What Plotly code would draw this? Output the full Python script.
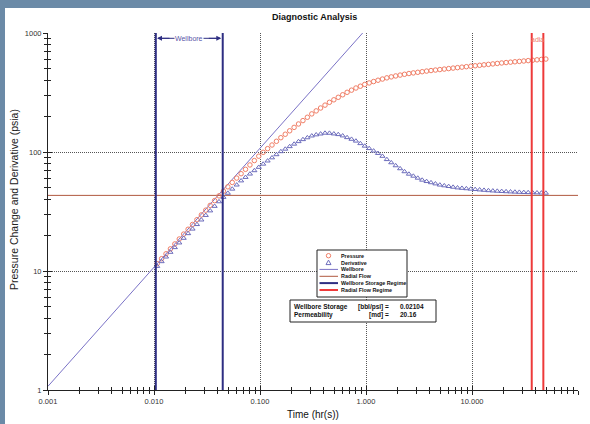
import plotly.graph_objects as go

# ---------------- data ----------------
time_hr = [
    0.010715, 0.011794, 0.012982, 0.014289, 0.015728, 0.017312, 0.019055, 0.020974,
    0.023086, 0.025410, 0.027970, 0.030786, 0.033884, 0.037297, 0.041052, 0.045186,
    0.049736, 0.054745, 0.060256, 0.066324, 0.073003, 0.080353, 0.088445, 0.097351,
    0.10715, 0.11794, 0.12982, 0.14289, 0.15728, 0.17312, 0.19055, 0.20974,
    0.23086, 0.25410, 0.27970, 0.30786, 0.33884, 0.37297, 0.41052, 0.45186,
    0.49736, 0.54745, 0.60256, 0.66324, 0.73003, 0.80353, 0.88445, 0.97351,
    1.0715, 1.1794, 1.2982, 1.4289, 1.5728, 1.7312, 1.9055, 2.0974,
    2.3086, 2.5410, 2.7970, 3.0786, 3.3884, 3.7297, 4.1052, 4.5186,
    4.9736, 5.4745, 6.0256, 6.6324, 7.3003, 8.0353, 8.8445, 9.7351,
    10.715, 11.794, 12.982, 14.289, 15.728, 17.312, 19.055, 20.974,
    23.086, 25.410, 27.970, 30.786, 33.884, 37.297, 41.052, 45.186,
    49.736,
]

pressure_psia = [
    11.53, 12.69, 13.95, 15.35, 16.88, 18.57, 20.43, 22.43,
    24.60, 26.98, 29.59, 32.45, 35.59, 39.03, 42.81, 46.84,
    50.99, 55.48, 60.38, 65.72, 71.52, 77.84, 84.72, 92.21,
    99.36, 106.7, 114.5, 123.0, 131.9, 141.0, 150.7, 161.0,
    172.0, 183.6, 195.9, 209.0, 221.6, 234.3, 247.6, 261.5,
    274.5, 288.2, 302.5, 317.4, 330.9, 345.0, 357.3, 369.7,
    380.5, 390.9, 401.0, 410.3, 419.9, 427.8, 435.7, 443.0,
    449.8, 456.6, 462.0, 467.5, 473.0, 478.6, 483.6, 488.2,
    492.9, 497.6, 502.3, 507.1, 511.7, 516.4, 521.1, 525.9,
    530.6, 535.4, 540.3, 545.1, 549.9, 554.9, 559.9, 564.5,
    568.7, 573.1, 577.4, 581.7, 586.1, 590.5, 595.0, 599.4,
    604.0,
]

derivative_psia = [
    10.96, 12.01, 13.14, 14.39, 15.76, 17.25, 18.88, 20.65,
    22.56, 24.63, 26.90, 29.38, 32.08, 35.04, 38.27, 41.69,
    45.13, 48.87, 52.92, 57.31, 61.31, 65.41, 69.81, 74.50,
    79.25, 84.25, 89.54, 95.15, 100.9, 105.9, 111.2, 116.7,
    122.5, 127.4, 132.0, 136.7, 139.7, 142.0, 144.3, 144.1,
    142.2, 140.4, 136.9, 132.4, 128.2, 123.8, 117.9, 112.3,
    107.1, 102.2, 97.52, 92.21, 86.56, 81.39, 76.82, 72.52,
    68.45, 65.25, 62.79, 60.41, 58.13, 56.60, 55.34, 54.09,
    52.88, 52.13, 51.42, 50.70, 50.05, 49.65, 49.25, 48.87,
    48.49, 48.14, 47.79, 47.44, 47.17, 46.94, 46.72, 46.49,
    46.31, 46.13, 45.97, 45.81, 45.68, 45.56, 45.44, 45.32,
    45.19,
]

wellbore_t = [0.001, 0.93]
wellbore_p = [1.075, 1000.0]
radial_t = [0.001, 100.0]
radial_p = [43.2, 43.2]
wbs_regime_t = [0.0104, 0.0445]
radial_regime_t = [36.6, 47.1]
y_span = [1.0, 1000.0]

x_tickvals = [0.001, 0.01, 0.1, 1, 10, 100]
x_ticktext = ["0.001", "0.010", "0.100", "1.000", "10.000", "100.000"]
y_tickvals = [1, 10, 100, 1000]
y_ticktext = ["1", "10", "100", "1000"]
x_minor = [m * 10.0 ** e for e in range(-3, 2) for m in range(2, 10)]
y_minor = [m * 10.0 ** e for e in range(0, 3) for m in range(2, 10)]

legend_labels = ["Pressure", "Derivative", "Wellbore", "Radial Flow",
                 "Wellbore Storage Regime", "Radial Flow Regime"]
ws_value = "0.02104"
perm_value = "20.16"

# ---------------- styles ----------------
FONT = "Liberation Sans, Arial, sans-serif"
C_P = "#f07e66"
C_D = "#6c6cbc"
C_WB = "#7a72c6"
C_RF = "#b0583f"
C_WBS = "#2e2e82"
C_RR = "#ee3a3a"
BG_STRIP = "#6b8aa7"
GRID = "#555555"

L, R, T, B = 48, 12, 33, 34
W, H = 590, 424
PW, PH = W - L - R, H - T - B


def px(x):
    return (x - L) / PW


def py(y):
    return (H - B - y) / PH


fig = go.Figure()

fig.add_trace(go.Scatter(x=wellbore_t, y=wellbore_p, mode="lines",
                         line=dict(color=C_WB, width=1), hoverinfo="skip"))
fig.add_trace(go.Scatter(x=radial_t, y=radial_p, mode="lines",
                         line=dict(color=C_RF, width=1), hoverinfo="skip"))
fig.add_trace(go.Scatter(x=time_hr, y=pressure_psia, mode="markers",
                         marker=dict(symbol="circle-open", size=4.5, color=C_P,
                                     line=dict(width=1, color=C_P))))
fig.add_trace(go.Scatter(x=time_hr, y=derivative_psia, mode="markers",
                         marker=dict(symbol="triangle-up-open", size=4.5, color=C_D,
                                     line=dict(width=1, color=C_D))))
fig.add_trace(go.Scatter(
    x=[wbs_regime_t[0], wbs_regime_t[0], None, wbs_regime_t[1], wbs_regime_t[1]],
    y=[y_span[0], y_span[1], None, y_span[0], y_span[1]],
    mode="lines", line=dict(color=C_WBS, width=2), hoverinfo="skip"))
fig.add_trace(go.Scatter(
    x=[radial_regime_t[0], radial_regime_t[0], None, radial_regime_t[1], radial_regime_t[1]],
    y=[y_span[0], y_span[1], None, y_span[0], y_span[1]],
    mode="lines", line=dict(color=C_RR, width=2), hoverinfo="skip"))
# empty trace to activate overlay axes (inner ticks + grid)
fig.add_trace(go.Scatter(x=[], y=[], xaxis="x2", yaxis="y2", hoverinfo="skip"))

fig.update_layout(
    width=W, height=H,
    margin=dict(l=L, r=R, t=T, b=B),
    paper_bgcolor="white", plot_bgcolor="white",
    showlegend=False, hovermode=False,
    xaxis=dict(type="log", range=[-3, 2], tickmode="array", tickvals=x_tickvals,
               ticktext=x_ticktext, ticks="outside", ticklen=4, tickwidth=1,
               tickcolor="#222", showline=True, linecolor="#222", linewidth=1,
               showgrid=False, zeroline=False,
               tickfont=dict(family=FONT, size=7.5, color="#333333"),
               minor=dict(tickmode="array", tickvals=x_minor, ticks="outside",
                          ticklen=3, tickcolor="#222", showgrid=False)),
    yaxis=dict(type="log", range=[0, 3], tickmode="array", tickvals=y_tickvals,
               ticktext=y_ticktext, ticks="outside", ticklen=4, tickwidth=1,
               tickcolor="#222", showline=True, linecolor="#222", linewidth=1,
               showgrid=False, zeroline=False,
               tickfont=dict(family=FONT, size=7.5, color="#333333"),
               minor=dict(tickmode="array", tickvals=y_minor, ticks="outside",
                          ticklen=3, tickcolor="#222", showgrid=False)),
    xaxis2=dict(type="log", range=[-3, 2], overlaying="x", anchor="y2",
                tickmode="array", tickvals=[0.01, 0.1, 1, 10, 100],
                ticks="inside", ticklen=4, tickcolor="#222",
                showticklabels=False, showline=False, zeroline=False,
                showgrid=True, gridcolor=GRID, griddash="1px,1px", gridwidth=1,
                minor=dict(tickmode="array", tickvals=x_minor, ticks="inside",
                           ticklen=3, tickcolor="#222", showgrid=False)),
    yaxis2=dict(type="log", range=[0, 3], overlaying="y", anchor="x2",
                tickmode="array", tickvals=[10, 100],
                ticks="inside", ticklen=4, tickcolor="#222",
                showticklabels=False, showline=False, zeroline=False,
                showgrid=True, gridcolor=GRID, griddash="1px,1px", gridwidth=1,
                minor=dict(tickmode="array", tickvals=y_minor, ticks="inside",
                           ticklen=3, tickcolor="#222", showgrid=False)),
)

shapes = []
annots = []
# window-frame strips
shapes.append(dict(type="rect", xref="paper", yref="paper", x0=px(0), x1=px(W),
                   y0=py(8), y1=py(0), fillcolor=BG_STRIP, line=dict(width=0), layer="above"))
shapes.append(dict(type="rect", xref="paper", yref="paper", x0=px(0), x1=px(5),
                   y0=py(H), y1=py(0), fillcolor=BG_STRIP, line=dict(width=0), layer="above"))

# legend box
shapes.append(dict(type="rect", xref="paper", yref="paper", x0=px(317), x1=px(407),
                   y0=py(297), y1=py(250), fillcolor="white",
                   line=dict(color="#222", width=1), layer="above"))
rows = [255.7, 262.6, 269.4, 276.3, 283.1, 290.0]
sx = 328.5
shapes.append(dict(type="circle", xref="paper", yref="paper", xsizemode="pixel",
                   ysizemode="pixel", xanchor=px(sx), yanchor=py(rows[0]),
                   x0=-2.2, x1=2.2, y0=-2.2, y1=2.2,
                   line=dict(color=C_P, width=1), layer="above"))
shapes.append(dict(type="path", xref="paper", yref="paper", xsizemode="pixel",
                   ysizemode="pixel", xanchor=px(sx), yanchor=py(rows[1]),
                   path="M -2.5,-2 L 2.5,-2 L 0,2.5 Z",
                   line=dict(color=C_D, width=1), layer="above"))
for r, col, wd in [(rows[2], C_WB, 1), (rows[3], C_RF, 1),
                   (rows[4], C_WBS, 2), (rows[5], C_RR, 2)]:
    shapes.append(dict(type="line", xref="paper", yref="paper", x0=px(319.5), x1=px(338),
                       y0=py(r), y1=py(r), line=dict(color=col, width=wd), layer="above"))
for r, lab in zip(rows, legend_labels):
    annots.append(dict(xref="paper", yref="paper", x=px(338.5), y=py(r), xanchor="left",
                       yanchor="middle", showarrow=False, text="<b>" + lab + "</b>",
                       font=dict(family=FONT, size=5.4, color="#111")))

# result box
shapes.append(dict(type="rect", xref="paper", yref="paper", x0=px(290), x1=px(436),
                   y0=py(322), y1=py(300), fillcolor="white",
                   line=dict(color="#222", width=1), layer="above"))
for r, a, b, c in [(306.8, "Wellbore Storage", "[bbl/psi] =", ws_value),
                   (314.6, "Permeability", "[md] =", perm_value)]:
    annots.append(dict(xref="paper", yref="paper", x=px(292), y=py(r), xanchor="left",
                       yanchor="middle", showarrow=False, text="<b>" + a + "</b>",
                       font=dict(family=FONT, size=6.5, color="#111")))
    annots.append(dict(xref="paper", yref="paper", x=px(390.5), y=py(r), xanchor="right",
                       yanchor="middle", showarrow=False, text="<b>" + b + "</b>",
                       font=dict(family=FONT, size=6.5, color="#111")))
    annots.append(dict(xref="paper", yref="paper", x=px(398), y=py(r), xanchor="left",
                       yanchor="middle", showarrow=False, text="<b>" + c + "</b>",
                       font=dict(family=FONT, size=6.5, color="#111")))

# Wellbore span marker
ya = py(38.3)
shapes.append(dict(type="line", xref="paper", yref="paper", x0=px(158), x1=px(220),
                   y0=ya, y1=ya, line=dict(color=C_WBS, width=1), layer="above"))
annots.append(dict(xref="paper", yref="paper", x=px(157), y=ya, ax=14, ay=0,
                   showarrow=True, arrowhead=2, arrowsize=1, arrowwidth=1,
                   arrowcolor=C_WBS, text=""))
annots.append(dict(xref="paper", yref="paper", x=px(221.3), y=ya, ax=-14, ay=0,
                   showarrow=True, arrowhead=2, arrowsize=1, arrowwidth=1,
                   arrowcolor=C_WBS, text=""))
annots.append(dict(xref="paper", yref="paper", x=px(189), y=ya, xanchor="center",
                   yanchor="middle", showarrow=False, text="Wellbore", bgcolor="white",
                   borderpad=0, font=dict(family=FONT, size=7, color="#5a55a8")))
annots.append(dict(xref="paper", yref="paper", x=px(537.5), y=py(39), xanchor="center",
                   yanchor="middle", showarrow=False, text="adia",
                   font=dict(family=FONT, size=7, color="#f07a6a")))

# titles
annots.append(dict(xref="paper", yref="paper", x=px(314), y=py(17.5), xanchor="center",
                   yanchor="middle", showarrow=False, text="<b>Diagnostic Analysis</b>",
                   font=dict(family=FONT, size=9, color="#111")))
annots.append(dict(xref="paper", yref="paper", x=px(313), y=py(414), xanchor="center",
                   yanchor="middle", showarrow=False, text="Time (hr(s))",
                   font=dict(family=FONT, size=10, color="#111")))
annots.append(dict(xref="paper", yref="paper", x=px(14), y=py(200), xanchor="center",
                   yanchor="middle", showarrow=False, textangle=-90,
                   text="Pressure Change and Derivative (psia)",
                   font=dict(family=FONT, size=10.5, color="#222")))

fig.update_layout(shapes=shapes, annotations=annots)

fig.write_html(
    "out.html",
    config={"displayModeBar": False},
    post_script="document.body.style.margin='0';document.body.style.overflow='hidden';",
)
